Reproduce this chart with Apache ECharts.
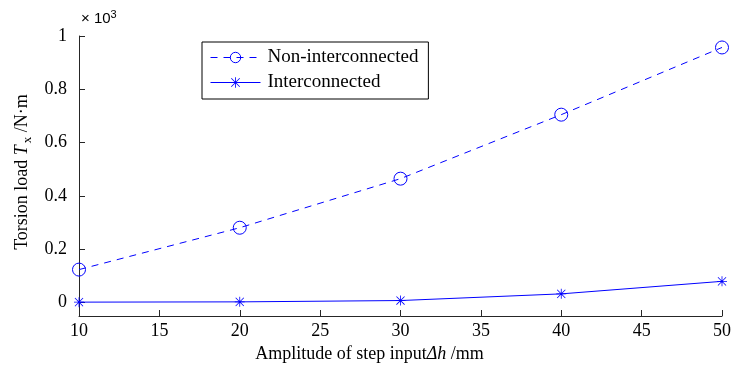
<!DOCTYPE html>
<html>
<head>
<meta charset="utf-8">
<script src="https://cdn.jsdelivr.net/npm/echarts@6/dist/echarts.min.js"></script>
<style>
  html, body { margin: 0; padding: 0; background: #fff; }
  #chart { width: 734px; height: 370px; }
</style>
</head>
<body>
<div id="chart"></div>
<script>
// step amplitude (mm)
const amplitude = [10, 20, 30, 40, 50];
// torsion load in N·m (axis shows x10^3)
const nonInterconnected = [124, 281, 465, 705, 957];
const interconnected = [2, 3, 8, 33, 80];
const yTicks = [0, 200, 400, 600, 800, 1000];

const serif = '"Liberation Serif", "Times New Roman", serif';
const blue = '#0000ff';

// asterisk marker, like matlab '*'
const star = 'path://M9.2 0H10.8V20H9.2Z M0 9.2H20V10.8H0Z ' +
  'M2.4 1.3L18.7 17.6L17.6 18.7L1.3 2.4Z M17.6 1.3L18.7 2.4L2.4 18.7L1.3 17.6Z';

const pairs = (ys) => amplitude.map((x, i) => [x, ys[i]]);
const tickRich = { t: { fontFamily: serif, fontSize: 18, color: '#000' } };

const chart = echarts.init(document.getElementById('chart'));
chart.setOption({
  animation: false,
  textStyle: { fontFamily: serif },
  grid: { left: 79, right: 11, top: 36, bottom: 54 },
  legend: {
    orient: 'vertical',
    left: 202,
    top: 42,
    padding: [6, 10, 7, 8],
    itemGap: 6,
    itemWidth: 50,
    itemHeight: 13,
    borderColor: '#000',
    borderWidth: 1,
    backgroundColor: '#fff',
    itemStyle: { borderWidth: 1 },
    lineStyle: { width: 1 },
    textStyle: { fontFamily: serif, fontSize: 19, color: '#000', padding: [0, 0, 0, 2] },
    data: ['Non-interconnected', 'Interconnected'],
  },
  graphic: [
    {
      type: 'text',
      left: 81,
      top: 9,
      style: {
        text: '× 10{sup|3}',
        fontFamily: '"Liberation Sans", sans-serif',
        fontSize: 15,
        fill: '#000',
        rich: {
          sup: { fontFamily: '"Liberation Sans", sans-serif', fontSize: 11, padding: [0, 0, 8, 0] },
        },
      },
    },
  ],
  xAxis: {
    type: 'value',
    min: 10,
    max: 50,
    interval: 5,
    name: 'Amplitude of step input{it|Δh} /mm',
    nameLocation: 'middle',
    nameGap: 28,
    nameTextStyle: {
      fontFamily: serif,
      fontSize: 18,
      color: '#000',
      padding: [0, 62, 0, 0],
      rich: { it: { fontFamily: serif, fontSize: 18, fontStyle: 'italic' } },
    },
    axisLine: { show: true, onZero: false, lineStyle: { color: '#262626', width: 1 } },
    axisTick: { show: true, inside: true, length: 6, lineStyle: { color: '#262626' } },
    axisLabel: {
      fontFamily: serif,
      fontSize: 18,
      color: '#000',
      margin: 6,
      formatter: (v) => '{t|' + v + '}',
      rich: tickRich,
    },
    splitLine: { show: false },
  },
  yAxis: {
    type: 'value',
    min: -50,
    max: 1000,
    name: 'Torsion load {it|T}{sub|x} /N·m',
    nameLocation: 'middle',
    nameGap: 42,
    nameTextStyle: {
      fontFamily: serif,
      fontSize: 18,
      color: '#000',
      padding: [0, 0, 0, 8],
      rich: {
        it: { fontFamily: serif, fontSize: 18, fontStyle: 'italic' },
        sub: { fontFamily: serif, fontSize: 13, padding: [10, 0, 0, 2] },
      },
    },
    axisLine: { show: true, onZero: false, lineStyle: { color: '#262626', width: 1 } },
    axisTick: { show: true, inside: true, length: 6, customValues: yTicks, lineStyle: { color: '#262626' } },
    axisLabel: {
      fontFamily: serif,
      fontSize: 18,
      color: '#000',
      margin: 12,
      customValues: yTicks,
      formatter: (v) => '{t|' + v / 1000 + '}',
      rich: tickRich,
    },
    splitLine: { show: false },
  },
  series: [
    {
      name: 'Non-interconnected',
      type: 'line',
      data: pairs(nonInterconnected),
      symbol: 'circle',
      symbolSize: 13,
      color: blue,
      lineStyle: { color: blue, width: 1, type: [7, 6] },
      itemStyle: { color: 'rgba(255,255,255,0)', borderColor: blue, borderWidth: 1 },
    },
    {
      name: 'Interconnected',
      type: 'line',
      data: pairs(interconnected),
      symbol: star,
      symbolSize: 10,
      color: blue,
      lineStyle: { color: blue, width: 1 },
      itemStyle: { color: blue },
    },
  ],
});
</script>
</body>
</html>
